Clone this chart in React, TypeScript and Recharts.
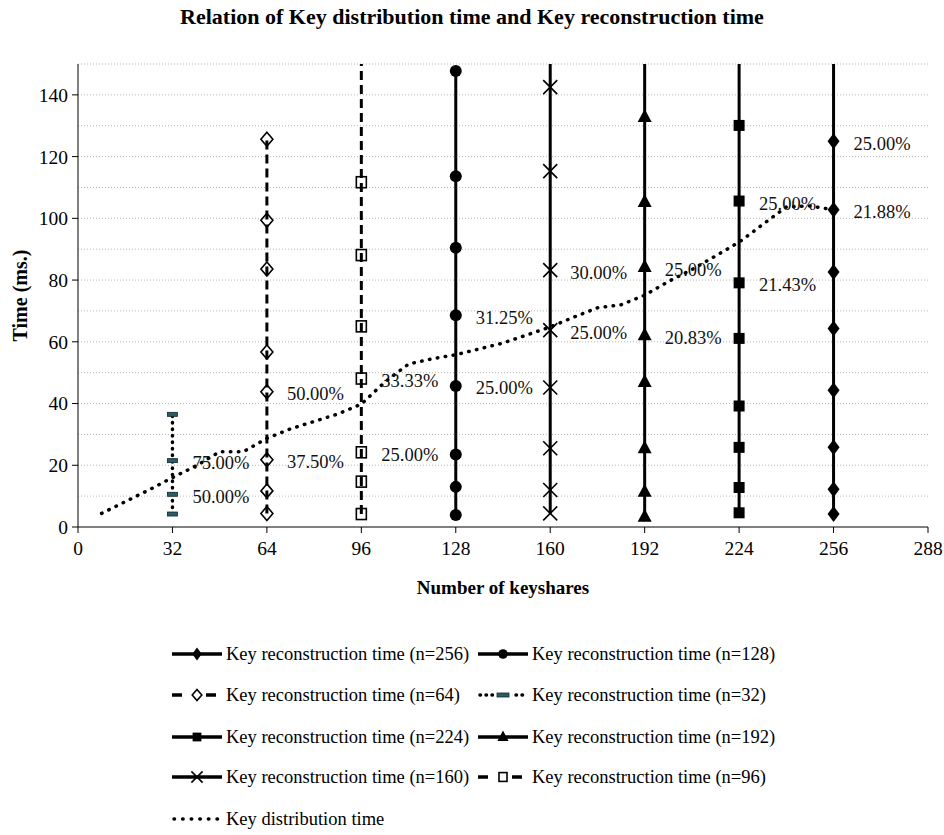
import React from 'react';
import { LineChart, Line, XAxis, YAxis, CartesianGrid, Legend, LabelList } from 'recharts';

// reconstruction times (ms.), one list per n; the last value of
// some lists lies above the 150 ms. top of the axis and is clipped there
const n32Times = [4.2, 10.6, 21.5, 36.5];
const n32Labels = ['', '50.00%', '75.00%', ''];
const n64Times = [4.4, 11.7, 21.8, 43.8, 56.7, 83.6, 99.4, 125.6];
const n64Labels = ['', '', '37.50%', '50.00%', '', '', '', ''];
const n96Times = [4.2, 14.7, 24.2, 48.1, 65.0, 88.1, 111.7, 160];
const n96Labels = ['', '', '25.00%', '33.33%', '', '', '', ''];
const n128Times = [3.9, 13.0, 23.5, 45.7, 68.6, 90.5, 113.6, 147.7];
const n128Labels = ['', '', '', '25.00%', '31.25%', '', '', ''];
const n160Times = [4.4, 12.0, 25.5, 45.2, 63.8, 83.2, 115.3, 142.5, 170];
const n160Labels = ['', '', '', '', '25.00%', '30.00%', '', '', ''];
const n192Times = [3.3, 11.4, 25.5, 47.0, 62.1, 84.2, 105.3, 132.8, 165];
const n192Labels = ['', '', '', '', '20.83%', '25.00%', '', '', ''];
const n224Times = [4.6, 12.8, 25.8, 39.2, 61.1, 79.1, 105.6, 130.1, 160];
const n224Labels = ['', '', '', '', '', '21.43%', '25.00%', '', ''];
const n256Times = [4.2, 12.2, 25.8, 44.3, 64.3, 82.6, 102.8, 125.0, 155];
const n256Labels = ['', '', '', '', '', '', '21.88%', '25.00%', ''];

const distShares = [8, 16, 24, 32, 40, 48, 56, 64, 72, 80, 88, 96, 104, 112, 120, 128,
  136, 144, 152, 160, 168, 176, 184, 192, 200, 208, 216, 224, 232, 240, 248, 256];
const distTimes = [4.4, 8.2, 12.0, 16.0, 19.8, 24.4, 24.4, 28.7, 31.8, 34.2, 36.6, 39.8, 47.0, 52.8, 54.5, 55.8,
  57.7, 59.6, 62.2, 64.8, 68.0, 71.0, 72.0, 75.1, 79.5, 83.4, 87.8, 92.3, 98.0, 103.7, 104.0, 102.8];

const xTicks = [0, 32, 64, 96, 128, 160, 192, 224, 256, 288];
const yTicks = [0, 20, 40, 60, 80, 100, 120, 140];
const gridValues = Array.from({ length: 30 }, (_, i) => (i + 1) * 5);

const FONT = '"Liberation Serif", "Times New Roman", serif';

const column = (n: number, times: number[], labels: string[]) =>
  times.map((t, i) => ({ x: n, y: t, pct: labels[i] }));

const distData = distShares.map((s, i) => ({ x: s, y: distTimes[i] }));

type Mk = (cx: number, cy: number, k?: number) => React.ReactNode;

// k scales the marker down for the legend
const markers: Record<string, Mk> = {
  diamond: (cx, cy, k = 1) => <polygon points={`${cx},${cy - 8 * k} ${cx + 6 * k},${cy} ${cx},${cy + 8 * k} ${cx - 6 * k},${cy}`} fill="#000" />,
  circle: (cx, cy, k = 1) => <circle cx={cx} cy={cy} r={6 * k} fill="#000" />,
  openDiamond: (cx, cy, k = 1) => <polygon points={`${cx},${cy - 7 * k} ${cx + 6 * k},${cy} ${cx},${cy + 7 * k} ${cx - 6 * k},${cy}`} fill="none" stroke="#000" strokeWidth={1.6} />,
  dash: (cx, cy, k = 1) => <rect x={cx - 5 * k - (k < 1 ? 2 : 0)} y={cy - 2} width={10 * k + (k < 1 ? 4 : 0)} height={4} fill="#2e5c66" stroke="#0f2a30" strokeWidth={0.8} />,
  square: (cx, cy, k = 1) => <rect x={cx - 5.5 * k} y={cy - 5.5 * k} width={11 * k} height={11 * k} fill="#000" />,
  triangle: (cx, cy, k = 1) => <polygon points={`${cx},${cy - 8 * k} ${cx + 7 * k},${cy + 5 * k} ${cx - 7 * k},${cy + 5 * k}`} fill="#000" />,
  cross: (cx, cy, k = 1) => (
    <g stroke="#000" strokeWidth={1.6}>
      <line x1={cx - 7 * k} y1={cy - 7 * k} x2={cx + 7 * k} y2={cy + 7 * k} />
      <line x1={cx - 7 * k} y1={cy + 7 * k} x2={cx + 7 * k} y2={cy - 7 * k} />
    </g>
  ),
  openSquare: (cx, cy, k = 1) => <rect x={cx - 5 * k} y={cy - 5.5 * k} width={10 * k} height={11 * k} fill="none" stroke="#000" strokeWidth={1.6} />,
};

const SOLID = '';
const DASHED = '9 5';
const DOTTED = '0.5 6';

const series = [
  { key: 'n256', name: 'Key reconstruction time (n=256)', data: column(256, n256Times, n256Labels), marker: 'diamond', dash: SOLID },
  { key: 'n128', name: 'Key reconstruction time (n=128)', data: column(128, n128Times, n128Labels), marker: 'circle', dash: SOLID },
  { key: 'n64', name: 'Key reconstruction time (n=64)', data: column(64, n64Times, n64Labels), marker: 'openDiamond', dash: DASHED },
  { key: 'n32', name: 'Key reconstruction time (n=32)', data: column(32, n32Times, n32Labels), marker: 'dash', dash: DOTTED },
  { key: 'n224', name: 'Key reconstruction time (n=224)', data: column(224, n224Times, n224Labels), marker: 'square', dash: SOLID },
  { key: 'n192', name: 'Key reconstruction time (n=192)', data: column(192, n192Times, n192Labels), marker: 'triangle', dash: SOLID },
  { key: 'n160', name: 'Key reconstruction time (n=160)', data: column(160, n160Times, n160Labels), marker: 'cross', dash: SOLID },
  { key: 'n96', name: 'Key reconstruction time (n=96)', data: column(96, n96Times, n96Labels), marker: 'openSquare', dash: DASHED },
];

const renderPct = (props: any) => {
  const { x, y, value, index } = props;
  if (!value) return null;
  return (
    <text key={`pct-${index}`} x={x + 20} y={y + 2} dy="0.35em" fontFamily={FONT} fontSize={18.5} fill="#111">
      {value}
    </text>
  );
};

const LegendIcon = ({ marker, dash, dist }: { marker?: string; dash: string; dist?: boolean }) => {
  const w = 50;
  let pattern: string | undefined;
  if (dist) pattern = '0.5 8.1';
  else if (dash === DOTTED) pattern = '0.5 5.5';
  else if (dash === DASHED) pattern = '10 7';
  return (
    <svg width={w} height={24} style={{ flex: 'none' }}>
      <line
        x1={dist || dash === DOTTED ? 2 : 0}
        y1={12}
        x2={w - (dist || dash === DOTTED ? 2 : 0)}
        y2={12}
        stroke="#000"
        strokeWidth={dist ? 3.5 : 3.5}
        strokeDasharray={pattern}
        strokeLinecap={dist || dash === DOTTED ? 'round' : 'butt'}
      />
      {marker && (dash === DASHED || dash === DOTTED) && <rect x={w / 2 - 9} y={4} width={18} height={16} fill="#fff" />}
      {marker && markers[marker](w / 2, 12, 0.8)}
    </svg>
  );
};

const rowCenters = [654, 695, 737, 777, 819];
const LEGEND_TOP = 630;

const renderLegend = () => {
  const items = [
    ...series.map(s => ({ name: s.name, marker: s.marker, dash: s.dash, dist: false })),
    { name: 'Key distribution time', marker: undefined, dash: DOTTED, dist: true },
  ];
  return (
    <div style={{ position: 'relative', width: 944, height: 205, fontFamily: FONT, fontSize: 18.5, color: '#000' }}>
      {items.map((it, i) => {
        const col = i % 2;
        const row = Math.floor(i / 2);
        return (
          <div
            key={it.name}
            style={{
              position: 'absolute',
              left: col === 0 ? 172 : 478,
              top: rowCenters[row] - LEGEND_TOP - 12,
              height: 24,
              display: 'flex',
              alignItems: 'center',
              whiteSpace: 'nowrap',
            }}
          >
            <LegendIcon marker={it.marker} dash={it.dash} dist={it.dist} />
            <span style={{ marginLeft: 4 }}>{it.name}</span>
          </div>
        );
      })}
    </div>
  );
};

export default function App() {
  return (
    <div style={{ position: 'absolute', left: 0, top: 0, width: 944, height: 835, background: '#fff' }}>
      <div
        style={{
          position: 'absolute',
          top: 4,
          left: 0,
          width: 944,
          textAlign: 'center',
          fontFamily: FONT,
          fontWeight: 'bold',
          fontSize: 22,
          color: '#000',
        }}
      >
        Relation of Key distribution time and Key reconstruction time
      </div>
      <LineChart width={944} height={835} margin={{ top: 64, right: 16, left: 0, bottom: 233 }}>
        <CartesianGrid
          horizontal
          vertical={false}
          horizontalValues={gridValues}
          stroke="#b8b8b8"
          strokeDasharray="1 2"
        />
        <XAxis
          type="number"
          dataKey="x"
          domain={[0, 288]}
          ticks={xTicks}
          height={75}
          allowDataOverflow
          stroke="#000"
          tickLine={{ stroke: '#000' }}
          tickSize={6}
          tickMargin={8}
          tick={{ fill: '#000', fontFamily: FONT, fontSize: 19.5 }}
          label={{ value: 'Number of keyshares', position: 'insideBottom', offset: 8, fill: '#000', fontFamily: FONT, fontSize: 19, fontWeight: 'bold' }}
        />
        <YAxis
          type="number"
          dataKey="y"
          domain={[0, 150]}
          ticks={yTicks}
          width={78}
          allowDataOverflow
          stroke="#000"
          tickSize={6}
          tickMargin={4}
          tick={{ fill: '#000', fontFamily: FONT, fontSize: 19.5 }}
          label={{ value: 'Time (ms.)', angle: -90, position: 'insideLeft', offset: 20, textAnchor: 'middle', fill: '#000', fontFamily: FONT, fontSize: 20, fontWeight: 'bold' }}
        />
        <Legend layout="horizontal" verticalAlign="middle" align="center" content={renderLegend} wrapperStyle={{ top: LEGEND_TOP, left: 0, width: 944, height: 205 }} />
        <Line
          data={distData}
          dataKey="y"
          name="Key distribution time"
          type="linear"
          stroke="#000"
          strokeWidth={3.5}
          strokeDasharray="0.5 7.5"
          strokeLinecap="round"
          dot={false}
          activeDot={false}
          isAnimationActive={false}
        />
        {series.map(s => (
          <Line
            key={s.key}
            data={s.data}
            dataKey="y"
            name={s.name}
            type="linear"
            stroke="#000"
            strokeWidth={s.dash === DOTTED ? 3.5 : 3}
            strokeDasharray={s.dash || undefined}
            strokeLinecap={s.dash === DOTTED ? 'round' : 'butt'}
            dot={(p: any) => <g key={`${s.key}-${p.index}`}>{markers[s.marker](p.cx, p.cy)}</g>}
            activeDot={false}
            isAnimationActive={false}
          >
            <LabelList dataKey="pct" content={renderPct} />
          </Line>
        ))}
      </LineChart>
    </div>
  );
}
